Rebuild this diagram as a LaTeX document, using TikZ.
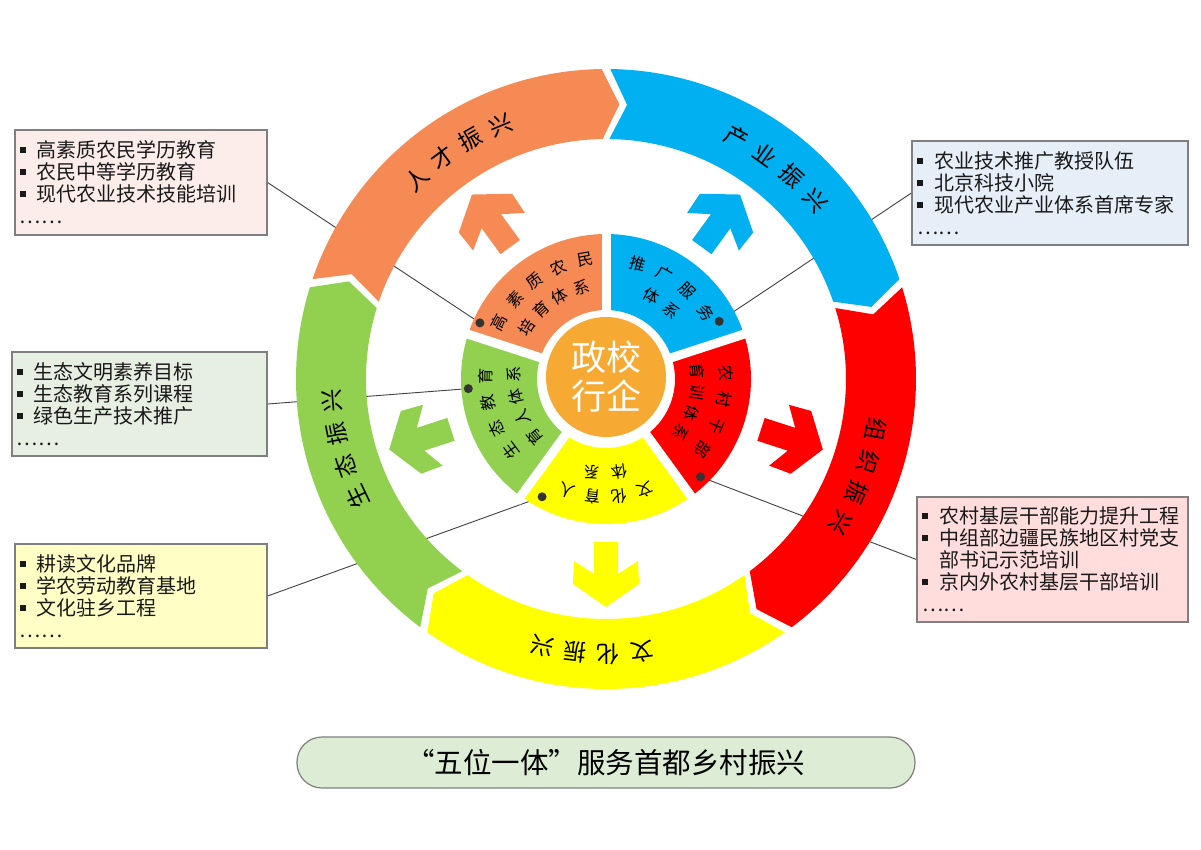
\documentclass[tikz,border=0pt]{standalone}
\usepackage{fontspec}
\setmainfont{Noto Sans CJK SC}
\usetikzlibrary{positioning,calc}
\pgfdeclarelayer{bg}
\pgfsetlayers{bg,main}

\definecolor{orng}{HTML}{F68A55}
\definecolor{skyb}{HTML}{00B0F0}
\definecolor{rred}{HTML}{FF0000}
\definecolor{yelw}{HTML}{FFFF00}
\definecolor{grn}{HTML}{92D050}
\definecolor{core}{HTML}{F7AA33}
\definecolor{boxgray}{HTML}{7F7F7F}
\definecolor{fillA}{HTML}{FDEDEA}
\definecolor{fillB}{HTML}{E6EEF8}
\definecolor{fillC}{HTML}{E7EFE3}
\definecolor{fillD}{HTML}{FFFFC5}
\definecolor{fillE}{HTML}{FFDDDD}
\definecolor{fillF}{HTML}{DDEDD5}

\newcommand{\itm}{\rule[4.6pt]{6pt}{6pt}\hspace{11pt}}
\newcommand{\itmgap}{\hspace*{17pt}}

% ring segment: colour, start boundary, end boundary (clockwise)
\newcommand{\ringseg}[3]{%
  \fill[#1] ({#2-0.8}:310) arc[start angle={#2-0.8}, end angle={#3+0.8}, radius=310]
    -- ({#3+0.8-3.6}:275) -- ({#3+0.8}:240)
    arc[start angle={#3+0.8}, end angle={#2-0.8}, radius=240]
    -- ({#2-0.8-3.6}:275) -- cycle;}

% block arrow pointing outwards: colour, angle
\newcommand{\pointer}[2]{%
  \fill[#1, rotate=#2] (163,12) -- (195,12) -- (182,32) -- (205,33) -- (228,0)
    -- (205,-33) -- (182,-32) -- (195,-12) -- (163,-12) -- cycle;}

% characters along an arc: name, radius, first angle, step, list
\newcommand{\arctext}[5]{%
  \foreach \ch [count=\i] in {#5} {
    \pgfmathsetmacro\a{#3-(\i-1)*#4}
    \node[rotate=\a-90] (#1-\i) at (\a:#2) {\ch};
  }}

\begin{document}
\begin{tikzpicture}[x=1pt, y=1pt,
    ringtxt/.style={font=\fontsize{23}{23}\selectfont, inner sep=0pt},
    sectxt/.style={font=\fontsize{16}{16}\selectfont, inner sep=0pt},
    listbox/.style={draw=boxgray, line width=1.2pt, inner xsep=5pt, align=left,
      text=black!90, font=\fontsize{20}{22}\selectfont},
    dot/.style={circle, fill=black!80, inner sep=0pt, minimum size=9pt},
    link/.style={draw=black!75, line width=0.9pt}]

\useasboundingbox (-606,-470) rectangle (595,379);

% outer ring
\ringseg{orng}{162}{90}
\ringseg{skyb}{90}{18}
\ringseg{rred}{18}{-54}
\ringseg{yelw}{-54}{-126}
\ringseg{grn}{234}{162}

% arrows
\foreach \c/\t in {orng/126, skyb/54, rred/-18, yelw/-90, grn/198}
  {\pointer{\c}{\t}}

% inner sectors
\foreach \c/\s/\e in {orng/162/90, skyb/90/18, rred/18/-54, yelw/-54/-126, grn/234/162}
  \fill[\c] (\s:69) arc[start angle=\s, end angle=\e, radius=69]
    -- (\e:145) arc[start angle=\e, end angle=\s, radius=145] -- cycle;
\foreach \b in {90,18,-54,-126,162}
  \draw[white, line width=9pt] (0,0) -- (\b:152);

\node[circle, fill=core, minimum size=120pt, inner sep=0pt, text=white, align=center,
  font=\fontsize{35}{39}\selectfont] (hub) at (0,2) {政校\\行企};

% ring labels
\begin{scope}[every node/.style=ringtxt]
  \arctext{talent}{275}{133.5}{7}{人,才,振,兴}
  \arctext{industry}{275}{61.5}{7}{产,业,振,兴}
  \arctext{organ}{275}{-10.5}{7}{组,织,振,兴}
  \arctext{culture}{275}{-82.5}{7}{文,化,振,兴}
  \arctext{ecology}{275}{205.5}{7}{生,态,振,兴}
\end{scope}

% sector labels
\begin{scope}[every node/.style=sectxt]
  \arctext{tl1}{121}{152}{13}{高,素,质,农,民}
  \arctext{tl2}{95}{147}{14}{培,育,体,系}
  \arctext{ind1}{120}{74.5}{13.7}{推,广,服,务}
  \arctext{ind2}{95}{61.5}{15}{体,系}
  \arctext{org1}{120}{3}{13}{农,村,干,部}
  \arctext{org2}{92}{5}{13.5}{育,训,体,系}
  \arctext{cul1}{118}{-70.5}{13}{文,化,育,人}
  \arctext{cul2}{94}{-81.5}{17}{体,系}
  \arctext{eco1}{120}{217}{12.7}{生,态,教,育}
  \arctext{eco2}{92}{219}{14}{育,人,体,系}
\end{scope}

% dots
\node[dot] (d-talent) at (156:138) {};
\node[dot] (d-ind) at (27:127) {};
\node[dot] (d-eco) at (184:138) {};
\node[dot] (d-cul) at (241.5:134) {};
\node[dot] (d-org) at (-46:136) {};

% lists
\node[listbox, fill=fillA, minimum width=252, minimum height=105, text width=242] (talent) at (-465,196.5)
  {\itm 高素质农民学历教育\\ \itm 农民中等学历教育\\ \itm 现代农业技术技能培训\\ ……};
\node[listbox, fill=fillB, minimum width=276, minimum height=104, text width=266] (ind) at (444,186)
  {\itm 农业技术推广教授队伍\\ \itm 北京科技小院\\ \itm 现代农业产业体系首席专家\\ ……};
\node[listbox, fill=fillC, minimum width=255, minimum height=104, text width=245] (eco) at (-466.5,-25)
  {\itm 生态文明素养目标\\ \itm 生态教育系列课程\\ \itm 绿色生产技术推广\\ ……};
\node[listbox, fill=fillD, minimum width=252, minimum height=104, text width=242] (cul) at (-465,-217)
  {\itm 耕读文化品牌\\ \itm 学农劳动教育基地\\ \itm 文化驻乡工程\\ ……};
\node[listbox, fill=fillE, minimum width=271, minimum height=125, text width=261] (org) at (446.5,-180.5)
  {\itm 农村基层干部能力提升工程\\ \itm 中组部边疆民族地区村党支\\ \itmgap 部书记示范培训\\
   \itm 京内外农村基层干部培训\\ ……};

\begin{pgfonlayer}{bg}
  \draw[link] (talent.east) -- (d-talent);
  \draw[link] (ind.west) -- (d-ind);
  \draw[link] (eco.east) -- (d-eco);
  \draw[link] (cul.east) -- (d-cul);
  \draw[link] (org.west) -- (d-org);
\end{pgfonlayer}

\node[draw=boxgray, line width=1.2pt, fill=fillF, rounded corners=25pt, minimum width=618,
  minimum height=51, font=\fontsize{28.5}{30}\selectfont] (motto) at (0,-383.5)
  {“五位一体”服务首都乡村振兴};
\end{tikzpicture}
\end{document}
